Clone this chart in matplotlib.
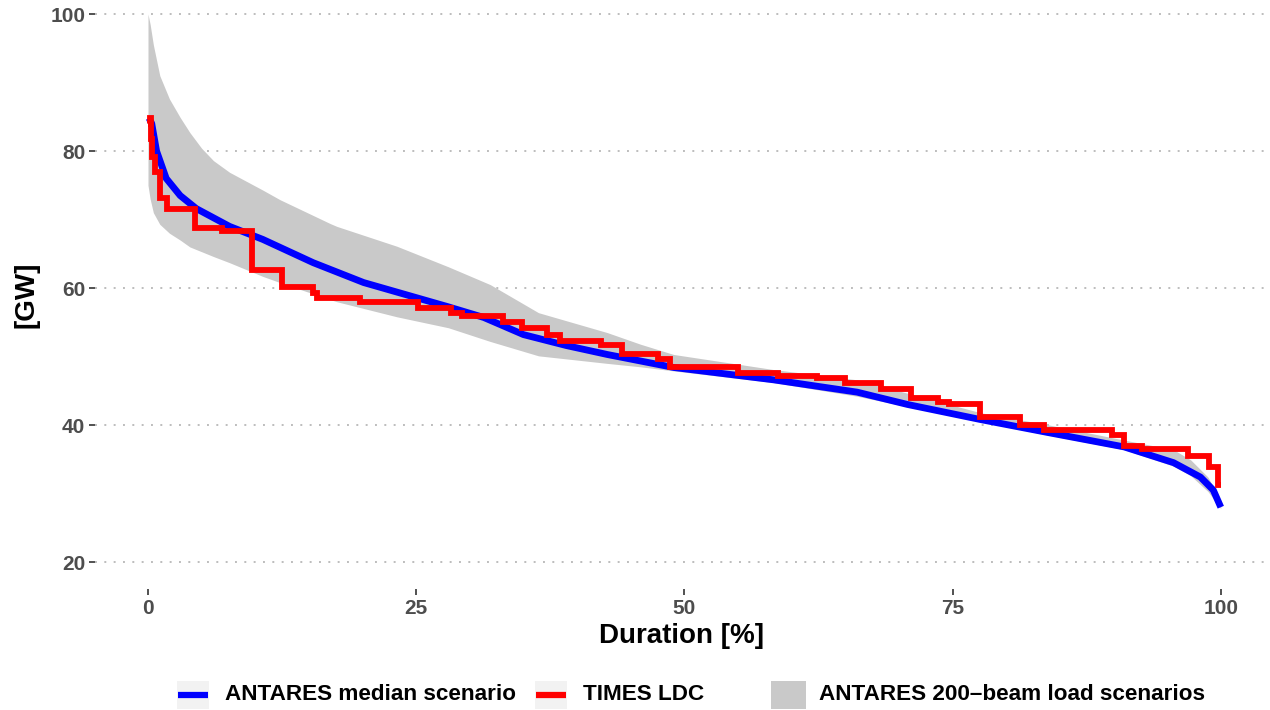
import numpy as np
import matplotlib
matplotlib.use("Agg")
import matplotlib.pyplot as plt
from matplotlib.patches import Rectangle
from matplotlib.lines import Line2D

plt.rcParams["font.family"] = ["Liberation Sans", "DejaVu Sans"]
plt.rcParams["font.weight"] = "bold"

# ─── Données ─────────────────────────────────────────────────────────────────
# Enveloppe des 200 scénarios ANTARES
band_x = [0, 0.2, 0.5, 1.1, 2.0, 3.0, 3.9, 5.0, 6.1, 7.6, 10.7, 12.3, 17.0,
          17.6, 23.2, 28.0, 31.9, 36.4, 42.8, 45.9, 49.0, 58.3, 66.1, 77.6,
          84.0, 91.0, 95.6, 97.2, 98.8, 100]
band_hi = [100, 98.5, 95.5, 91, 87.6, 84.9, 82.7, 80.4, 78.6, 76.9, 74.3,
           72.9, 69.4, 69.0, 66.1, 63.1, 60.5, 56.4, 53.5, 51.8, 50.3, 48.1,
           46.6, 41.8, 40.0, 37.8, 36.4, 34.9, 32.4, 29.0]
band_lo = [75.0, 73.0, 71.0, 69.3, 68.0, 67.0, 66.0, 65.3, 64.6, 63.7, 61.7,
           60.8, 58.3, 58.0, 55.8, 54.2, 52.2, 50.1, 49.0, 48.5, 47.9, 46.2,
           44.2, 40.5, 38.5, 36.4, 34.0, 32.6, 30.3, 27.8]

# Scénario médian ANTARES
median_x = [0.1, 0.35, 0.8, 1.7, 3.0, 4.5, 7.6, 10.7, 15.4, 20.1, 25.0, 27.9,
            31.3, 35.0, 39.0, 42.8, 49.0, 58.3, 66.1, 70.8, 77.6, 83.9, 91.0,
            95.6, 98.1, 99.3, 100]
median_y = [84.8, 84.0, 80.0, 76.0, 73.5, 71.6, 69.0, 67.1, 63.7, 60.8, 58.6,
            57.3, 55.7, 53.2, 51.6, 50.3, 48.4, 46.6, 44.8, 43.0, 40.8, 38.9,
            36.8, 34.5, 32.4, 30.5, 28.0]

# Courbe monotone TIMES (marches)
times_x = [0.0, 0.15, 0.25, 0.4, 0.65, 1.1, 1.8, 4.4, 6.9, 9.7, 12.5, 15.4,
           15.8, 19.8, 25.2, 28.2, 29.3, 33.1, 34.9, 37.2, 38.4, 42.2, 44.2,
           47.5, 48.7, 55.0, 58.7, 62.4, 65.0, 68.3, 71.1, 73.6, 74.7, 77.6,
           81.3, 83.5, 89.9, 91.0, 92.7, 96.9, 98.9, 99.7, 100]
times_y = [84.0, 84.8, 81.7, 79.2, 76.9, 73.2, 71.5, 68.8, 68.3, 62.7, 60.2,
           59.3, 58.6, 57.9, 57.1, 56.4, 55.9, 55.0, 54.2, 53.1, 52.3, 51.7,
           50.4, 49.7, 48.4, 47.6, 47.1, 46.8, 46.2, 45.3, 44.0, 43.4, 43.0,
           41.1, 40.0, 39.3, 38.6, 36.9, 36.5, 35.5, 33.9, 31.3, 31.3]

y_ticks = [20, 40, 60, 80, 100]
x_ticks = [0, 25, 50, 75, 100]

BLUE = "#0000FF"
RED = "#FF0000"
BAND = "#C9C9C9"
W, H = 1270, 710

fig = plt.figure(figsize=(W / 100, H / 100), dpi=100)
ax = fig.add_axes([95 / W, 1 - 589 / H, (1268 - 95) / W, 589 / H])

ax.fill_between(band_x, band_lo, band_hi, color=BAND, linewidth=0, zorder=1)
ax.plot(median_x, median_y, color=BLUE, lw=4.9, solid_capstyle="butt",
        solid_joinstyle="round", zorder=2)
ax.step(times_x, times_y, where="post", color=RED, lw=4.2,
        solid_capstyle="butt", solid_joinstyle="miter", zorder=3)

ax.set_xlim(-4.94, 104.4)
ax.set_ylim(16.06, 102.05)
ax.set_xticks(x_ticks)
ax.set_yticks(y_ticks)
ax.set_xticklabels([str(t) for t in x_ticks])
ax.set_yticklabels([str(t) for t in y_ticks])

for s in ax.spines.values():
    s.set_visible(False)
ax.grid(axis="y", color="#BDBDBD", lw=1.4, linestyle=(0, (1, 3.8)))
ax.set_axisbelow(True)
ax.tick_params(axis="both", length=4, width=1.2, color="#333333",
               labelsize=15, labelcolor="#4D4D4D", pad=3)
for lab in ax.get_xticklabels() + ax.get_yticklabels():
    lab.set_fontweight("bold")

ax.set_xlabel("Duration [%]", fontsize=20, fontweight="bold", color="black",
              labelpad=4)
ax.set_ylabel("[GW]", fontsize=20, fontweight="bold", color="black",
              labelpad=8)

# ─── Légende en bas ──────────────────────────────────────────────────────────
def fx(px):
    return px / W

def fy(py):
    return 1 - py / H

yc = 695
key_bg = "#F2F2F2"
for x0, col in [(177, BLUE), (535, RED)]:
    fig.add_artist(Rectangle((fx(x0), fy(709)), 32 / W, 28 / H,
                             transform=fig.transFigure, color=key_bg, lw=0))
    fig.add_artist(Line2D([fx(x0 + 1), fx(x0 + 31)], [fy(yc), fy(yc)],
                          transform=fig.transFigure, color=col, lw=4.5,
                          solid_capstyle="butt"))
fig.add_artist(Rectangle((fx(771), fy(709)), 35 / W, 28 / H,
                         transform=fig.transFigure, color=BAND, lw=0))

for x0, txt in [(225, "ANTARES median scenario"), (583, "TIMES LDC"),
                (819, "ANTARES 200\u2013beam load scenarios")]:
    fig.text(fx(x0), fy(yc), txt, fontsize=16.2, fontweight="bold",
             color="black", ha="left", va="center")

fig.savefig("out.png", dpi=100)
